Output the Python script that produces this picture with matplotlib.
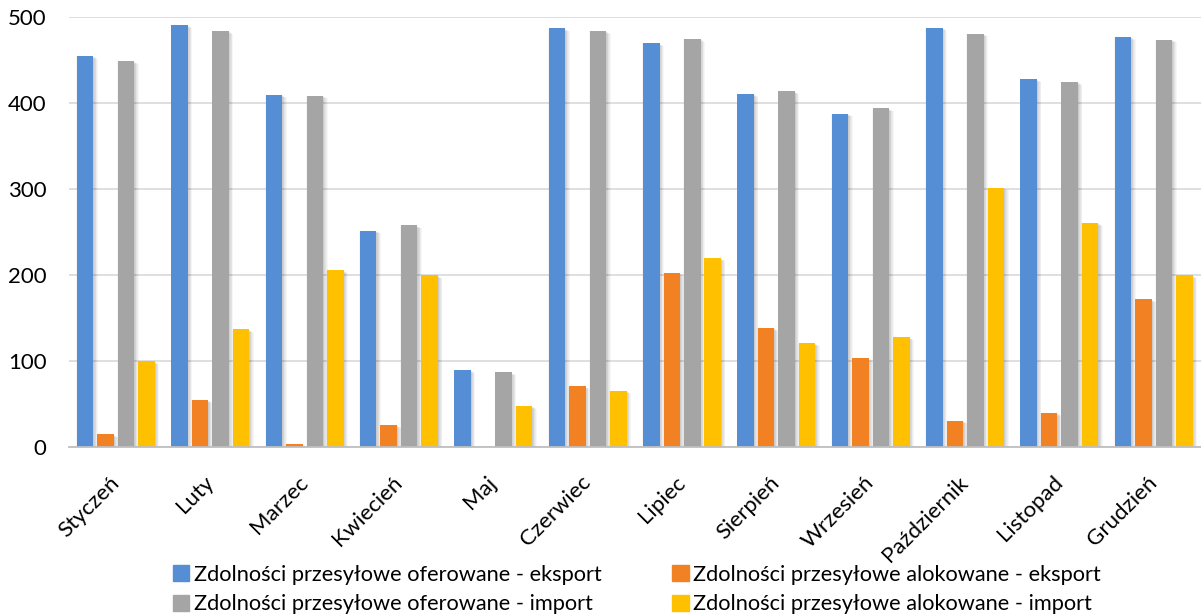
import numpy as np
import matplotlib
matplotlib.use("Agg")
import matplotlib.pyplot as plt
import matplotlib.patheffects as pe
import matplotlib.transforms as mtransforms
from matplotlib.patches import Patch

plt.rcParams['font.family'] = ['Lato', 'DejaVu Sans']

months = ["Styczeń", "Luty", "Marzec", "Kwiecień", "Maj", "Czerwiec",
          "Lipiec", "Sierpień", "Wrzesień", "Październik", "Listopad", "Grudzień"]

oferowane_eksport = [455, 491, 410, 252, 90, 487, 470, 411, 388, 488, 428, 477]
alokowane_eksport = [15, 55, 4, 26, 0, 71, 203, 139, 104, 31, 40, 172]
oferowane_import = [449, 484, 409, 258, 87, 484, 475, 414, 394, 481, 425, 474]
alokowane_import = [100, 137, 206, 200, 48, 66, 220, 121, 128, 302, 261, 200]

series = [
    ("Zdolności przesyłowe oferowane - eksport", oferowane_eksport, "#558ED5"),
    ("Zdolności przesyłowe alokowane - eksport", alokowane_eksport, "#F28123"),
    ("Zdolności przesyłowe oferowane - import", oferowane_import, "#A5A5A5"),
    ("Zdolności przesyłowe alokowane - import", alokowane_import, "#FFC000"),
]

# soft drop shadow built from several faint offset copies
shadow = [pe.SimplePatchShadow(offset=(dx, dy), shadow_rgbFace="#000000", alpha=0.035)
          for dx, dy in [(-0.5, -0.3), (0.5, -0.5), (1.0, -0.8), (1.5, -1.0),
                         (2.0, -1.3), (2.6, -1.6), (3.2, -2.0)]] + [pe.Normal()]

fig = plt.figure(figsize=(12.01, 6.14), dpi=100)
ax = fig.add_axes([0.0572, 0.2715, 0.9428, 0.7003])

x = np.arange(len(months))
slot = 0.217
width = 0.175
for i, (name, vals, color) in enumerate(series):
    bars = ax.bar(x + (i - 1.5) * slot, vals, width, color=color, label=name, zorder=3)
    for b in bars:
        b.set_path_effects(shadow)

ax.set_xlim(-0.5, len(months) - 0.5)
ax.set_ylim(0, 500)
ax.set_yticks([0, 100, 200, 300, 400, 500])
ax.yaxis.grid(True, color="#D9D9D9", linewidth=1.2, zorder=0)
ax.set_axisbelow(True)
for s in ["top", "right", "left"]:
    ax.spines[s].set_visible(False)
ax.spines["bottom"].set_color("#BFBFBF")
ax.spines["bottom"].set_linewidth(1.3)
ax.spines["bottom"].set_zorder(4)

ax.tick_params(axis="y", length=0, pad=16, labelsize=16, labelcolor="#000000")
ax.tick_params(axis="x", length=0, pad=18, labelsize=16, labelcolor="#000000")
ax.set_xticks(x)
ax.set_xticklabels(months, rotation=45, ha="right", va="top", rotation_mode="anchor")
# nudge rotated month names left so their ends sit under the group centres
shift = mtransforms.ScaledTranslation(-0.07, 0, fig.dpi_scale_trans)
for lbl in ax.get_xticklabels():
    lbl.set_transform(lbl.get_transform() + shift)

# legend fills column by column: put the two "oferowane" entries in column one
order = [0, 2, 1, 3]
handles = [Patch(color=series[k][2], label=series[k][0]) for k in order]
fig.legend(handles=handles, loc="upper left", bbox_to_anchor=(173 / 1201, 1 - 565 / 614),
           ncol=2, frameon=False, fontsize=15.7, handlelength=0.75, handleheight=0.75,
           handletextpad=0.2, columnspacing=3.25, labelspacing=0.43,
           borderpad=0, borderaxespad=0)

fig.savefig("out.png", dpi=100)
